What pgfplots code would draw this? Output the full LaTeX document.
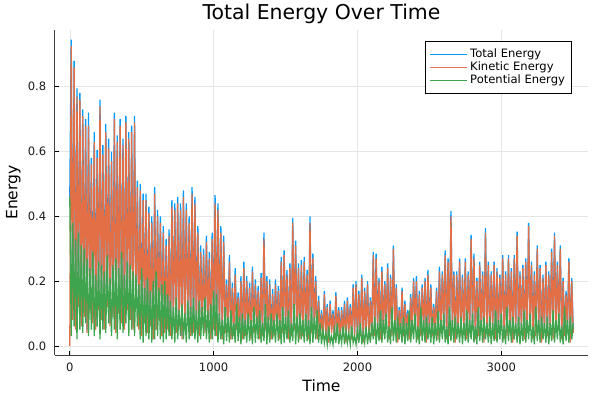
\documentclass[border=0pt]{standalone}
\usepackage{pgfplots}
\pgfplotsset{compat=1.18}
\usepackage{pgfplotstable}
\usepackage{fontspec}
\setmainfont{DejaVu Sans}

\definecolor{cTotal}{RGB}{0,154,250}
\definecolor{cKin}{RGB}{227,111,71}
\definecolor{cPot}{RGB}{62,164,78}

% t, total, kinetic, potential
\pgfplotstableread{
t T K P
0 0.46 0.00 0.46
10 0.945 0.925 0.03
20 0.09 0.08 0.38
30 0.88 0.86 0.06
40 0.06 0.05 0.33
50 0.795 0.77 0.02
60 0.13 0.12 0.35
70 0.78 0.76 0.05
80 0.07 0.06 0.31
90 0.73 0.71 0.04
100 0.10 0.09 0.30
110 0.70 0.68 0.07
120 0.05 0.04 0.27
130 0.72 0.68 0.03
140 0.11 0.10 0.24
150 0.58 0.56 0.05
160 0.08 0.07 0.29
170 0.66 0.63 0.03
180 0.06 0.05 0.22
190 0.605 0.58 0.06
200 0.12 0.11 0.26
210 0.76 0.74 0.02
220 0.09 0.08 0.25
230 0.62 0.59 0.05
240 0.06 0.05 0.23
250 0.685 0.66 0.04
260 0.13 0.12 0.28
270 0.64 0.61 0.07
280 0.07 0.06 0.21
290 0.60 0.57 0.03
300 0.10 0.09 0.25
310 0.72 0.70 0.05
320 0.05 0.04 0.27
330 0.65 0.63 0.02
340 0.11 0.10 0.24
350 0.70 0.68 0.05
360 0.08 0.07 0.29
370 0.64 0.62 0.04
380 0.06 0.05 0.22
390 0.71 0.69 0.07
400 0.12 0.11 0.26
410 0.66 0.64 0.03
420 0.09 0.08 0.25
430 0.68 0.66 0.05
440 0.06 0.05 0.23
450 0.71 0.69 0.03
460 0.13 0.12 0.22
470 0.51 0.49 0.06
480 0.06 0.05 0.19
490 0.50 0.48 0.02
500 0.04 0.03 0.24
510 0.47 0.45 0.01
520 0.08 0.07 0.18
530 0.47 0.45 0.03
540 0.05 0.04 0.21
550 0.43 0.41 0.02
560 0.07 0.06 0.17
570 0.40 0.38 0.01
580 0.03 0.02 0.20
590 0.49 0.47 0.02
600 0.06 0.05 0.23
610 0.42 0.40 0.03
620 0.09 0.08 0.18
630 0.40 0.38 0.02
640 0.04 0.03 0.19
650 0.37 0.35 0.01
660 0.05 0.04 0.20
670 0.33 0.31 0.02
680 0.06 0.05 0.16
690 0.36 0.34 0.03
700 0.04 0.03 0.14
710 0.45 0.43 0.02
720 0.08 0.07 0.12
730 0.44 0.42 0.01
740 0.05 0.04 0.15
750 0.46 0.44 0.02
760 0.07 0.06 0.11
770 0.44 0.42 0.03
780 0.03 0.02 0.13
790 0.48 0.46 0.02
800 0.06 0.05 0.10
810 0.44 0.42 0.01
820 0.09 0.08 0.14
830 0.40 0.38 0.02
840 0.04 0.03 0.12
850 0.49 0.47 0.03
860 0.05 0.04 0.15
870 0.46 0.44 0.02
880 0.06 0.05 0.11
890 0.37 0.35 0.01
900 0.04 0.03 0.14
910 0.31 0.29 0.02
920 0.08 0.07 0.12
930 0.30 0.28 0.03
940 0.05 0.04 0.15
950 0.34 0.32 0.02
960 0.07 0.06 0.11
970 0.29 0.27 0.01
980 0.03 0.02 0.13
990 0.35 0.33 0.02
1000 0.06 0.05 0.17
1010 0.465 0.44 0.03
1020 0.04 0.03 0.16
1030 0.44 0.42 0.01
1040 0.06 0.05 0.10
1050 0.37 0.35 0.02
1060 0.03 0.02 0.08
1070 0.34 0.32 0.005
1080 0.05 0.04 0.12
1090 0.205 0.19 0.015
1100 0.07 0.06 0.09
1110 0.28 0.26 0.01
1120 0.03 0.02 0.11
1130 0.195 0.18 0.02
1140 0.04 0.03 0.07
1150 0.24 0.22 0.01
1160 0.06 0.05 0.13
1170 0.165 0.15 0.015
1180 0.05 0.04 0.09
1190 0.215 0.20 0.005
1200 0.03 0.02 0.10
1210 0.26 0.24 0.02
1220 0.04 0.03 0.08
1230 0.215 0.20 0.01
1240 0.06 0.05 0.10
1250 0.195 0.18 0.015
1260 0.03 0.02 0.08
1270 0.245 0.23 0.005
1280 0.05 0.04 0.12
1290 0.205 0.19 0.01
1300 0.07 0.06 0.09
1310 0.185 0.17 0.02
1320 0.03 0.02 0.11
1330 0.225 0.21 0.01
1340 0.04 0.03 0.07
1350 0.35 0.33 0.015
1360 0.06 0.05 0.13
1370 0.215 0.20 0.005
1380 0.05 0.04 0.09
1390 0.205 0.19 0.01
1400 0.03 0.02 0.10
1410 0.175 0.16 0.02
1420 0.04 0.03 0.08
1430 0.205 0.19 0.01
1440 0.06 0.05 0.10
1450 0.185 0.17 0.015
1460 0.03 0.02 0.08
1470 0.275 0.26 0.005
1480 0.05 0.04 0.12
1490 0.295 0.28 0.01
1500 0.07 0.06 0.09
1510 0.235 0.22 0.02
1520 0.03 0.02 0.11
1530 0.255 0.24 0.01
1540 0.04 0.03 0.07
1550 0.395 0.38 0.015
1560 0.06 0.05 0.13
1570 0.325 0.31 0.005
1580 0.05 0.04 0.09
1590 0.255 0.24 0.01
1600 0.03 0.02 0.10
1610 0.265 0.25 0.02
1620 0.04 0.03 0.08
1630 0.275 0.26 0.01
1640 0.06 0.05 0.10
1650 0.235 0.22 0.015
1660 0.03 0.02 0.08
1670 0.40 0.38 0.005
1680 0.05 0.04 0.12
1690 0.285 0.27 0.01
1700 0.07 0.06 0.09
1710 0.215 0.20 0.02
1720 0.03 0.02 0.11
1730 0.155 0.14 0.01
1740 0.04 0.03 0.07
1750 0.11 0.10 0.005
1760 0.03 0.02 0.05
1770 0.17 0.16 0.01
1780 0.04 0.03 0.04
1790 0.13 0.12 0.005
1800 0.02 0.01 0.06
1810 0.14 0.13 0.01
1820 0.05 0.04 0.03
1830 0.11 0.10 0.005
1840 0.03 0.02 0.05
1850 0.165 0.155 0.01
1860 0.04 0.03 0.07
1870 0.12 0.11 0.005
1880 0.03 0.02 0.04
1890 0.12 0.11 0.01
1900 0.04 0.03 0.06
1910 0.14 0.13 0.005
1920 0.02 0.01 0.05
1930 0.15 0.14 0.01
1940 0.05 0.04 0.04
1950 0.13 0.12 0.005
1960 0.03 0.02 0.06
1970 0.19 0.18 0.01
1980 0.04 0.03 0.03
1990 0.20 0.19 0.005
2000 0.03 0.02 0.05
2010 0.17 0.16 0.01
2020 0.04 0.03 0.07
2030 0.22 0.21 0.005
2040 0.02 0.01 0.04
2050 0.18 0.17 0.01
2060 0.05 0.04 0.06
2070 0.20 0.19 0.005
2080 0.03 0.02 0.05
2090 0.15 0.14 0.01
2100 0.04 0.03 0.07
2110 0.29 0.28 0.02
2120 0.04 0.03 0.09
2130 0.285 0.27 0.005
2140 0.06 0.05 0.07
2150 0.21 0.20 0.015
2160 0.03 0.02 0.11
2170 0.245 0.23 0.01
2180 0.05 0.04 0.08
2190 0.20 0.19 0.02
2200 0.07 0.06 0.10
2210 0.255 0.24 0.01
2220 0.03 0.02 0.06
2230 0.22 0.21 0.005
2240 0.04 0.03 0.12
2250 0.31 0.30 0.015
2260 0.06 0.05 0.08
2270 0.19 0.18 0.01
2280 0.02 0.01 0.09
2290 0.12 0.11 0.02
2300 0.05 0.04 0.07
2310 0.18 0.17 0.01
2320 0.04 0.03 0.09
2330 0.14 0.13 0.005
2340 0.06 0.05 0.07
2350 0.11 0.10 0.015
2360 0.03 0.02 0.11
2370 0.16 0.15 0.01
2380 0.05 0.04 0.08
2390 0.21 0.20 0.02
2400 0.07 0.06 0.10
2410 0.215 0.20 0.01
2420 0.03 0.02 0.06
2430 0.17 0.16 0.005
2440 0.04 0.03 0.12
2450 0.19 0.18 0.015
2460 0.06 0.05 0.08
2470 0.21 0.20 0.01
2480 0.02 0.01 0.09
2490 0.235 0.22 0.02
2500 0.05 0.04 0.07
2510 0.19 0.18 0.01
2520 0.04 0.03 0.09
2530 0.13 0.12 0.005
2540 0.06 0.05 0.07
2550 0.18 0.17 0.015
2560 0.03 0.02 0.11
2570 0.245 0.23 0.01
2580 0.05 0.04 0.08
2590 0.23 0.22 0.02
2600 0.07 0.06 0.10
2610 0.295 0.28 0.01
2620 0.03 0.02 0.06
2630 0.27 0.26 0.005
2640 0.04 0.03 0.12
2650 0.417 0.40 0.015
2660 0.06 0.05 0.08
2670 0.23 0.22 0.01
2680 0.02 0.01 0.09
2690 0.23 0.22 0.02
2700 0.05 0.04 0.07
2710 0.27 0.26 0.01
2720 0.04 0.03 0.09
2730 0.22 0.21 0.005
2740 0.06 0.05 0.07
2750 0.27 0.26 0.015
2760 0.03 0.02 0.11
2770 0.23 0.22 0.01
2780 0.05 0.04 0.08
2790 0.343 0.33 0.02
2800 0.07 0.06 0.10
2810 0.285 0.27 0.01
2820 0.03 0.02 0.06
2830 0.21 0.20 0.005
2840 0.04 0.03 0.12
2850 0.26 0.25 0.015
2860 0.06 0.05 0.08
2870 0.23 0.22 0.01
2880 0.02 0.01 0.09
2890 0.364 0.35 0.02
2900 0.05 0.04 0.07
2910 0.26 0.25 0.01
2920 0.04 0.03 0.09
2930 0.23 0.22 0.005
2940 0.06 0.05 0.07
2950 0.26 0.25 0.015
2960 0.03 0.02 0.11
2970 0.24 0.23 0.01
2980 0.05 0.04 0.08
2990 0.22 0.21 0.02
3000 0.07 0.06 0.10
3010 0.28 0.27 0.01
3020 0.03 0.02 0.06
3030 0.23 0.22 0.005
3040 0.04 0.03 0.12
3050 0.28 0.27 0.015
3060 0.06 0.05 0.08
3070 0.24 0.23 0.01
3080 0.02 0.01 0.09
3090 0.28 0.27 0.02
3100 0.05 0.04 0.07
3110 0.353 0.34 0.01
3120 0.04 0.03 0.09
3130 0.23 0.22 0.005
3140 0.06 0.05 0.07
3150 0.25 0.24 0.015
3160 0.03 0.02 0.11
3170 0.27 0.26 0.01
3180 0.05 0.04 0.08
3190 0.38 0.37 0.02
3200 0.07 0.06 0.10
3210 0.26 0.25 0.01
3220 0.03 0.02 0.06
3230 0.23 0.22 0.005
3240 0.04 0.03 0.12
3250 0.31 0.30 0.015
3260 0.06 0.05 0.08
3270 0.25 0.24 0.01
3280 0.02 0.01 0.09
3290 0.22 0.21 0.02
3300 0.05 0.04 0.07
3310 0.26 0.25 0.01
3320 0.04 0.03 0.09
3330 0.23 0.22 0.005
3340 0.06 0.05 0.07
3350 0.30 0.29 0.015
3360 0.03 0.02 0.11
3370 0.35 0.34 0.01
3380 0.05 0.04 0.08
3390 0.26 0.25 0.02
3400 0.07 0.06 0.10
3410 0.31 0.30 0.01
3420 0.03 0.02 0.06
3430 0.21 0.20 0.005
3440 0.04 0.03 0.12
3450 0.17 0.16 0.015
3460 0.06 0.05 0.08
3470 0.27 0.26 0.01
3480 0.02 0.01 0.09
3490 0.21 0.20 0.02
3500 0.05 0.04 0.07
}\energy

\begin{document}
\begin{tikzpicture}
\useasboundingbox (-54.7bp,-45bp) rectangle (545.3bp,355bp);
\begin{axis}[
  scale only axis,
  width=533.6bp, height=325bp,
  xmin=-105, xmax=3605,
  ymin=-0.028, ymax=0.975,
  axis x line=bottom, axis y line=left,
  axis line style={-, draw=black!75, line width=0.9bp},
  xtick={0,1000,2000,3000},
  ytick={0,0.2,0.4,0.6,0.8},
  tick align=inside,
  major tick length=4.5bp,
  tick style={draw=black, line width=0.8bp},
  grid=major,
  major grid style={draw=black!10, line width=0.5bp},
  /pgf/number format/assume math mode=true,
  /pgf/number format/1000 sep={},
  tick label style={font=\fontsize{11.6}{13}\selectfont, text=black!90},
  yticklabel style={/pgf/number format/fixed, /pgf/number format/fixed zerofill,
    /pgf/number format/precision=1, xshift=-5bp},
  xticklabel style={yshift=-4.5bp},
  title={Total Energy Over Time},
  every axis title/.style={at={(axis description cs:0.5,1.031)}, anchor=base,
    inner sep=0pt, font=\fontsize{20.5}{24}\selectfont},
  xlabel={Time},
  xlabel style={at={(axis description cs:0.5,-0.112)}, anchor=base, inner sep=0pt,
    font=\fontsize{15.6}{18}\selectfont},
  ylabel={Energy},
  ylabel style={at={(axis description cs:-0.07,0.5)}, anchor=base, inner sep=0pt,
    font=\fontsize{15.6}{18}\selectfont},
  legend style={at={(axis description cs:1,1)}, anchor=north east,
    xshift=-16.6bp, yshift=-11bp, draw=black, line width=0.7bp, fill=white,
    font=\fontsize{11.6}{12}\selectfont, inner xsep=4bp, inner ysep=7bp,
    nodes={inner xsep=2.4bp, inner ysep=1.2bp, text height=8bp, text depth=2.4bp}},
  legend image code/.code={\draw[#1, line width=1.2bp] (0bp,0bp) -- (37bp,0bp);},
  legend cell align=left,
  every axis plot/.append style={line width=1.3bp},
]
\addplot[cTotal] table[x=t, y=T] {\energy};
\addlegendentry{Total Energy}
\addplot[cKin] table[x=t, y=K] {\energy};
\addlegendentry{Kinetic Energy}
\addplot[cPot] table[x=t, y=P] {\energy};
\addlegendentry{Potential Energy}
\end{axis}
\end{tikzpicture}
\end{document}
